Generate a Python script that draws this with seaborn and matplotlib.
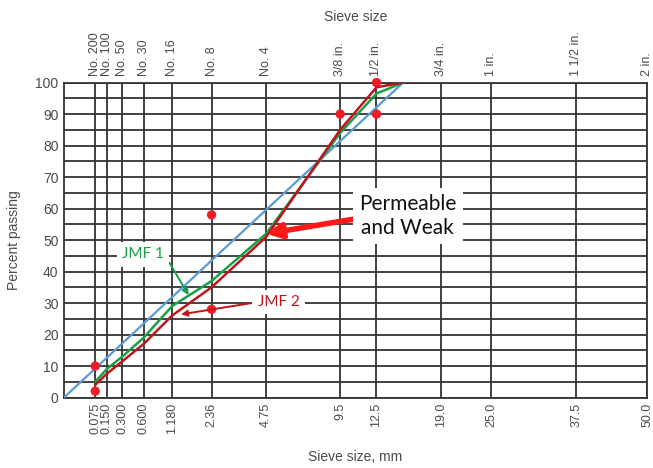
import numpy as np
import pandas as pd
import matplotlib
matplotlib.use("Agg")
import matplotlib.pyplot as plt
import seaborn as sns

# ---- data ----
sieves = [0.075, 0.15, 0.3, 0.6, 1.18, 2.36, 4.75, 9.5, 12.5, 19.0, 25.0, 37.5, 50.0]
mm_labels = ["0.075", "0.150", "0.300", "0.600", "1.180", "2.36", "4.75",
             "9.5", "12.5", "19.0", "25.0", "37.5", "50.0"]
sieve_names = ["No. 200", "No. 100", "No. 50", "No. 30", "No. 16", "No. 8", "No. 4",
               "3/8 in.", "1/2 in.", "3/4 in.", "1 in.", "1 1/2 in.", "2 in."]

jmf_sizes = [0.075, 0.15, 0.3, 0.6, 1.18, 2.36, 4.75, 9.5, 12.5, 15.0]
jmf1 = [5, 9, 13, 19, 29, 37, 52, 84, 96.5, 100]
jmf2 = [4, 7.5, 11.5, 17, 26, 35, 51, 85, 98.5, 100]

mdl_sizes = [0, 15.0]
mdl_pass = [0, 100]

ctrl_sizes = [0.075, 0.075, 2.36, 2.36, 9.5, 12.5, 12.5]
ctrl_pass = [2, 10, 28, 58, 90, 90, 100]

y_ticks = list(range(0, 101, 10))
y_minor = list(range(5, 100, 10))

# ---- style ----
sns.set_theme(style="white")
plt.rcParams["font.family"] = ["Liberation Sans", "DejaVu Sans"]

GRID = "#333333"
LABEL = "#4a4a4a"
GREEN = "#1a9e47"
RED = "#c0141c"
BLUE = "#5b9bd5"
DOT = "#ee1c24"

def fwd(x):
    return np.power(np.clip(x, 0, None), 0.45)

def inv(x):
    return np.power(np.clip(x, 0, None), 1 / 0.45)

fig = plt.figure(figsize=(6.53, 4.68), dpi=100)
ax = fig.add_axes([0.098, 0.1506, 0.893, 0.673])
ax.set_xscale("function", functions=(fwd, inv))
ax.set_xlim(0, 50)
ax.set_ylim(0, 100)

# grid
ax.set_xticks(sieves)
ax.set_xticklabels(mm_labels, rotation=90)
ax.set_yticks(y_ticks)
ax.set_yticks(y_minor, minor=True)
ax.set_axisbelow(True)
ax.grid(True, which="both", color=GRID, lw=1.3)
ax.tick_params(axis="both", which="both", length=0, labelsize=10, labelcolor=LABEL, pad=4)
ax.tick_params(axis="x", labelsize=9)
for s in ax.spines.values():
    s.set_color(GRID)
    s.set_linewidth(1.3)

# lines
sns.lineplot(x=mdl_sizes, y=mdl_pass, ax=ax, color=BLUE, lw=1.6, sort=False,
             estimator=None, zorder=3)
sns.lineplot(x=jmf_sizes, y=jmf1, ax=ax, color=GREEN, lw=1.8, sort=False,
             estimator=None, zorder=4)
sns.lineplot(x=jmf_sizes, y=jmf2, ax=ax, color=RED, lw=1.8, sort=False,
             estimator=None, zorder=5)
sns.scatterplot(x=ctrl_sizes, y=ctrl_pass, ax=ax, color=DOT, s=45,
                edgecolor="none", zorder=6, clip_on=False)

ax.set_xlim(0, 50)
ax.set_ylim(0, 100)
ax.set_xlabel("Sieve size, mm", fontsize=10, color=LABEL, labelpad=11)
ax.set_ylabel("Percent passing", fontsize=10, color=LABEL, labelpad=10)

# top axis
top = ax.twiny()
top.set_xscale("function", functions=(fwd, inv))
top.set_xlim(0, 50)
top.set_xticks(sieves)
top.set_xticklabels(sieve_names, rotation=90)
top.tick_params(axis="x", length=0, labelsize=9, labelcolor=LABEL, pad=5)
top.set_xlabel("Sieve size", fontsize=10, color=LABEL, labelpad=7)
for s in top.spines.values():
    s.set_visible(False)
top.grid(False)

# annotations
ann_font = ["Lato", "DejaVu Sans"]
box = dict(boxstyle="square,pad=0.35", fc="white", ec="none")
ax.annotate("JMF 1", xy=(1.62, 32.5), xytext=(0.59, 45.5), textcoords="data",
            ha="center", va="center", fontsize=11, color=GREEN, family=ann_font,
            bbox=box, zorder=8,
            arrowprops=dict(arrowstyle="-|>", color=GREEN, lw=1.4, mutation_scale=9,
                            relpos=(1, 0.55), shrinkA=0, shrinkB=0))
ax.annotate("JMF 2", xy=(1.41, 26.4), xytext=(5.42, 30.3), textcoords="data",
            ha="center", va="center", fontsize=11, color=RED, family=ann_font,
            bbox=box, zorder=8,
            arrowprops=dict(arrowstyle="-|>", color=RED, lw=1.4, mutation_scale=9,
                            relpos=(0, 0.5), shrinkA=0, shrinkB=0))
ax.annotate("Permeable\nand Weak", xy=(4.75, 52), xytext=(15.45, 57.6), textcoords="data",
            ha="center", va="center", fontsize=15, color="#111111", family=ann_font,
            linespacing=1.2,
            bbox=dict(boxstyle="square,pad=0.3", fc="white", ec="none"), zorder=8,
            arrowprops=dict(arrowstyle="-|>", color="#ff1a1a", lw=4, mutation_scale=22,
                            relpos=(0, 0.45), shrinkA=0, shrinkB=0))

fig.savefig("out.png", dpi=100)
